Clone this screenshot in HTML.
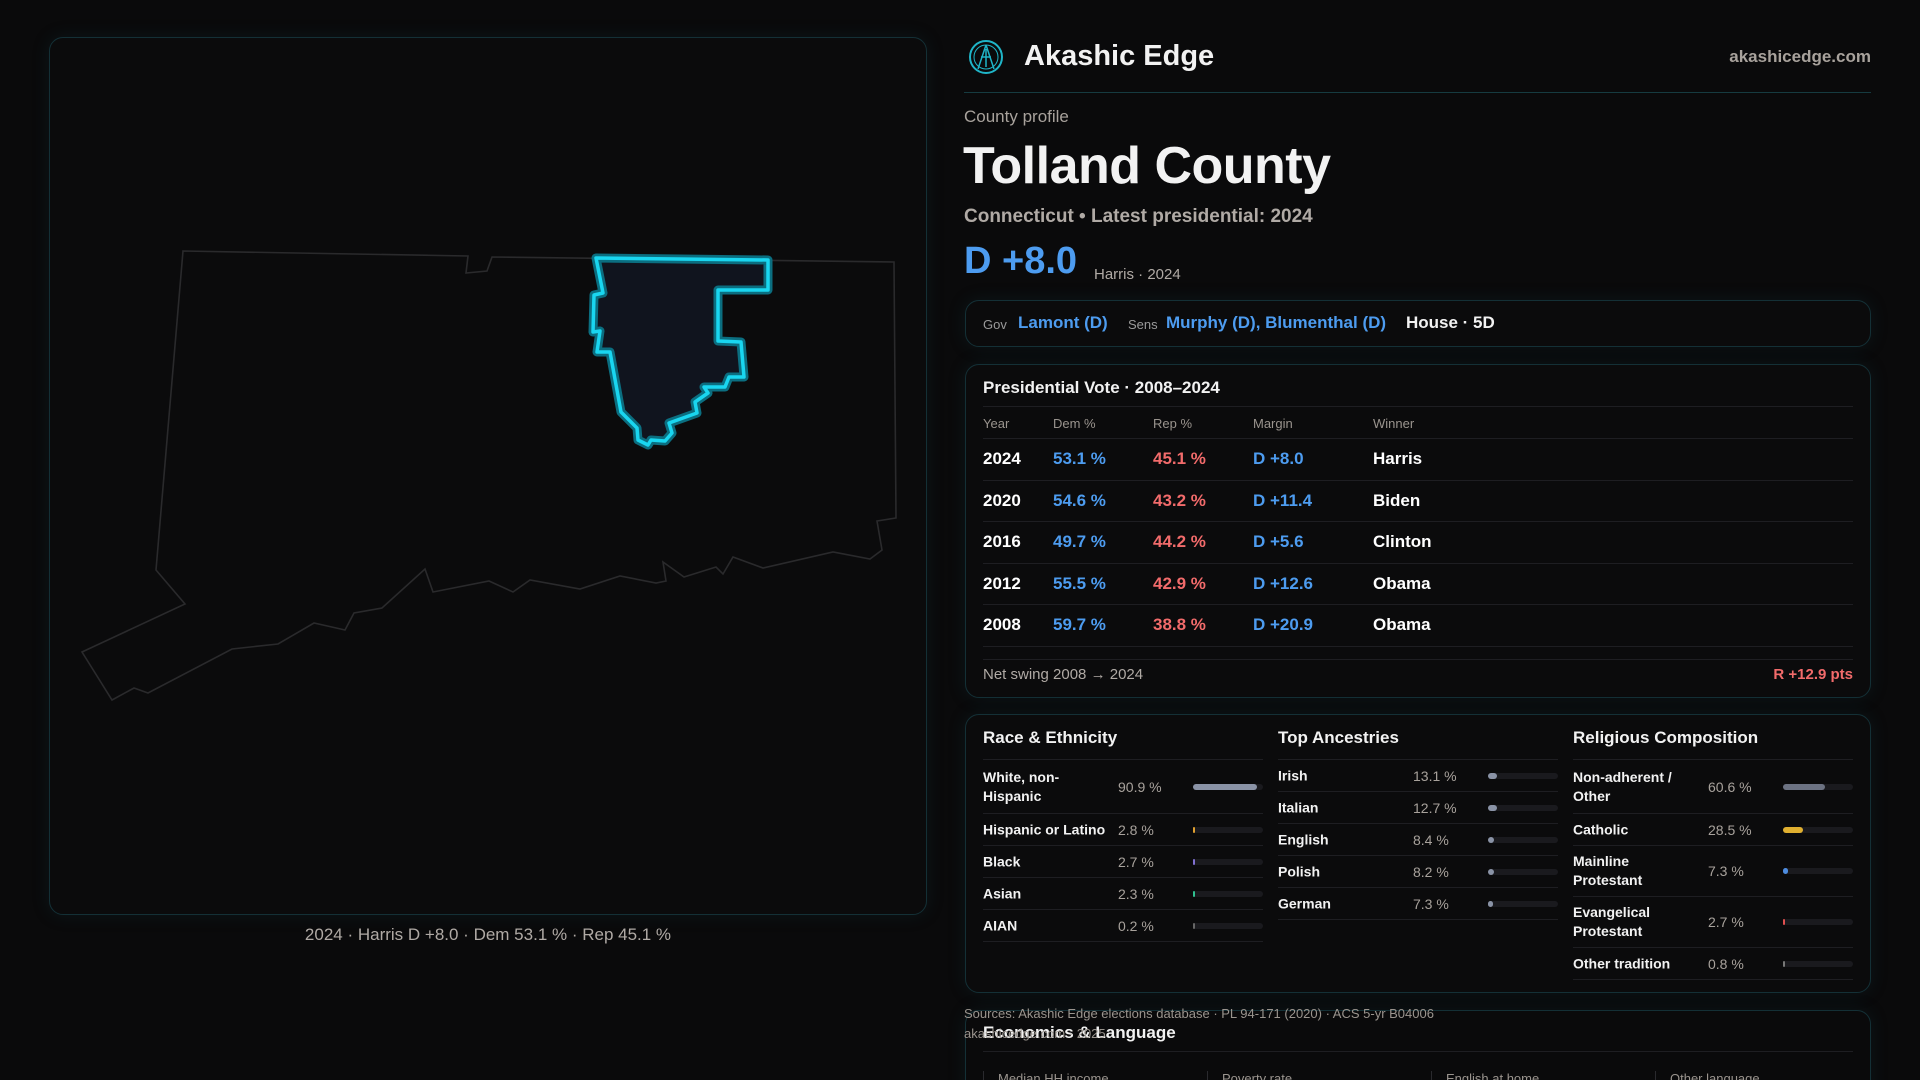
<!DOCTYPE html>
<html><head><meta charset="utf-8">
<style>
*{box-sizing:border-box;margin:0;padding:0}
html{width:1920px;height:1080px;overflow:hidden}
body{width:1920px;height:1080px;background:#0a0a0b;font-family:"Liberation Sans",sans-serif;color:#f2f2f2;position:relative;overflow:hidden}
.abs{position:absolute}
.panel{position:absolute;border:1px solid #143036;border-radius:14px;background:#0b0b0c;box-shadow:0 0 18px rgba(20,80,90,0.18)}
.muted{color:#9a9a9a}
.blue{color:#4d9cf0}.red{color:#f26b6b}
.row{position:absolute;left:0;right:0;border-bottom:1px solid #1e1e22}
.cell{position:absolute;top:0;white-space:nowrap}
</style></head><body>
<div class="panel" style="left:49px;top:37px;width:878px;height:878px;">
<svg width="878" height="878" style="position:absolute;left:-1px;top:-1px">
<g transform="translate(-49,-37)">
<polygon fill="#0b0b0c" stroke="#2a2a2c" stroke-width="1.6" points="183,251 468,256 466,273 487,271 492,257 894,262 896,518 877,521 882,550 870,559 833,552 763,568 733,557 723,574 716,567 684,577 663,562 666,581 656,583 620,576 580,589 530,580 513,592 489,581 433,592 425,569 382,608 354,613 345,630 314,623 278,644 232,649 148,693 134,688 112,700 82,652 185,604 156,570"/>
<polygon fill="#10141e" stroke="#0b6e80" stroke-width="9" stroke-linejoin="round" points="596,258 768,260 768,290 718,290 718,341 741,342 744,377 729,377 725,387 704,387 708,393 695,402 697,413 669,423 672,433 665,441 651,440 648,445 638,440 637,428 621,412 610,352 597,352 600,331 593,332 594,295 603,293"/>
<polygon fill="none" stroke="#19d6f0" stroke-width="3.5" stroke-linejoin="round" points="596,258 768,260 768,290 718,290 718,341 741,342 744,377 729,377 725,387 704,387 708,393 695,402 697,413 669,423 672,433 665,441 651,440 648,445 638,440 637,428 621,412 610,352 597,352 600,331 593,332 594,295 603,293"/>
</g></svg>
</div>
<div class="abs muted" style="left:49px;width:878px;top:925px;text-align:center;font-size:17px;color:#b0aaa5">2024 · Harris D +8.0 · Dem 53.1 % · Rep 45.1 %</div>

<svg class="abs" style="left:968px;top:39px" width="36" height="36">
<circle cx="18" cy="18" r="16" fill="none" stroke="#1fb5c8" stroke-width="2"/>
<circle cx="18" cy="18" r="12" fill="none" stroke="#1fb5c8" stroke-width="1"/>
<path d="M18 6 L10 30 M18 6 L26 30 M13 18 L23 18 M18 10 L18 28" stroke="#1fb5c8" stroke-width="1.5" fill="none"/></svg>
<div class="abs" style="left:1024px;top:40px;font-size:29px;font-weight:bold">Akashic Edge</div>
<div class="abs" style="right:49px;top:47px;font-size:17px;font-weight:bold;color:#a8a29c">akashicedge.com</div>
<div class="abs" style="left:964px;width:907px;top:92px;height:1px;background:#163b40"></div>
<div class="abs" style="left:964px;top:107px;font-size:17px;color:#a8a29c">County profile</div>
<div class="abs" style="left:963px;top:136px;font-size:52px;font-weight:bold;letter-spacing:-0.5px">Tolland County</div>
<div class="abs" style="left:964px;top:206px;font-size:19px;color:#b0aaa5;font-weight:bold">Connecticut • Latest presidential: 2024</div>
<div class="abs blue" style="left:964px;top:240px;font-size:38px;font-weight:bold">D +8.0</div>
<div class="abs" style="left:1094px;top:266px;font-size:15px;color:#b0aaa5">Harris · 2024</div>

<div class="panel" style="left:965px;top:300px;width:906px;height:47px;font-size:17px">
<span class="abs muted" style="left:17px;top:16px;font-size:13px">Gov</span>
<span class="abs blue" style="left:52px;top:12px;font-weight:bold">Lamont (D)</span>
<span class="abs muted" style="left:162px;top:16px;font-size:13px">Sens</span>
<span class="abs blue" style="left:200px;top:12px;font-weight:bold">Murphy (D), Blumenthal (D)</span>
<span class="abs" style="left:440px;top:12px;font-weight:bold">House · 5D</span>
</div>

<div class="panel" style="left:965px;top:364px;width:906px;height:334px">
<div class="abs" style="left:17px;top:13px;font-size:17px;font-weight:bold">Presidential Vote · 2008–2024</div>
<div class="abs" style="left:17px;right:17px;top:41px;height:1px;background:#1e1e22"></div>
<div id="pres" class="abs" style="left:17px;right:17px;top:41px;height:240px"></div>
<div class="abs" style="left:17px;right:17px;top:294px;height:1px;background:#1e1e22"></div>
<div class="abs" style="left:17px;top:301px;font-size:15px;color:#b0aaa5">Net swing 2008 → 2024</div>
<div class="abs red" style="right:17px;top:301px;font-size:15px;font-weight:bold">R +12.9 pts</div>
</div>

<div class="panel" style="left:965px;top:714px;width:906px;height:279px">
<div id="demo" class="abs" style="left:0;top:0;right:0;bottom:0"></div>
</div>

<div class="panel" style="left:965px;top:1010px;width:906px;height:100px;background:transparent">
<div class="abs" style="left:17px;top:12px;font-size:17px;font-weight:bold">Economics &amp; Language</div>
<div class="abs" style="left:17px;right:17px;top:40px;height:1px;background:#1e1e22"></div>
<div class="abs" style="left:17px;top:60px;width:210px;height:60px;border-left:1px solid #2a2a2e;padding-left:14px;font-size:13px;color:#9a948e">Median HH income</div>
<div class="abs" style="left:241px;top:60px;width:210px;height:60px;border-left:1px solid #2a2a2e;padding-left:14px;font-size:13px;color:#9a948e">Poverty rate</div>
<div class="abs" style="left:465px;top:60px;width:210px;height:60px;border-left:1px solid #2a2a2e;padding-left:14px;font-size:13px;color:#9a948e">English at home</div>
<div class="abs" style="left:689px;top:60px;width:210px;height:60px;border-left:1px solid #2a2a2e;padding-left:14px;font-size:13px;color:#9a948e">Other language</div>
</div>
<div class="abs" style="left:964px;top:1006px;font-size:13px;color:#9a948e">Sources: Akashic Edge elections database · PL 94-171 (2020) · ACS 5-yr B04006</div>
<div class="abs" style="left:964px;top:1026px;font-size:13px;color:#9a948e">akashicedge.com · 2025</div>

<script>
const years=["2024","2020","2016","2012","2008"];
const demPct=[53.1,54.6,49.7,55.5,59.7];
const repPct=[45.1,43.2,44.2,42.9,38.8];
const marginLabels=["D +8.0","D +11.4","D +5.6","D +12.6","D +20.9"];
const winners=["Harris","Biden","Clinton","Obama","Obama"];

const raceLabels=["White, non-\nHispanic","Hispanic or Latino","Black","Asian","AIAN"];
const raceValues=[90.9,2.8,2.7,2.3,0.2];
const raceColors=["#8a93a6","#e0a030","#8070d0","#30c090","#666"];
const ancLabels=["Irish","Italian","English","Polish","German"];
const ancValues=[13.1,12.7,8.4,8.2,7.3];
const relLabels=["Non-adherent /\nOther","Catholic","Mainline\nProtestant","Evangelical\nProtestant","Other tradition"];
const relValues=[60.6,28.5,7.3,2.7,0.8];
const relColors=["#6c7282","#e0b030","#4d8ce0","#e05050","#777"];

const pres=document.getElementById('pres');
const cols=[0,70,170,270,390];
const hdr=document.createElement('div');
hdr.className='row';hdr.style.top='0px';hdr.style.height='33px';


["Year","Dem %","Rep %","Margin","Winner"].forEach((t,i)=>{const c=document.createElement('div');c.className='cell';c.style.left=cols[i]+'px';c.style.top='10px';c.style.fontSize='13px';c.style.color='#9a948e';c.textContent=t;hdr.appendChild(c);});
pres.appendChild(hdr);
years.forEach((y,i)=>{
  const r=document.createElement('div');r.className='row';
  r.style.top=(33+i*41.5)+'px';r.style.height='41.5px';
  
  
  const m=demPct[i]-repPct[i];
  const vals=[[y,'#fff'],[demPct[i].toFixed(1)+' %','#4d9cf0'],[repPct[i].toFixed(1)+' %','#f26b6b'],[marginLabels[i],m>=0?'#4d9cf0':'#f26b6b'],[winners[i],'#fff']];
  vals.forEach((v,j)=>{const c=document.createElement('div');c.className='cell';c.style.left=cols[j]+'px';c.style.top='10px';c.style.fontSize='17px';c.style.fontWeight='bold';c.style.color=v[1];c.textContent=v[0];r.appendChild(c);});
  pres.appendChild(r);
});

const demo=document.getElementById('demo');
function section(x,title,labels,values,colors,heights,name){
  const t=document.createElement('div');t.className='abs';t.style.left=x+'px';t.style.top='13px';t.style.fontSize='17px';t.style.fontWeight='bold';t.textContent=title;
  
  
  demo.appendChild(t);
  const ln=document.createElement('div');ln.className='abs';ln.style.left=x+'px';ln.style.width='280px';ln.style.top='44px';ln.style.height='1px';ln.style.background='#1e1e22';demo.appendChild(ln);
  let y=45;
  labels.forEach((l,i)=>{
    const h=heights[i];
    const r=document.createElement('div');r.className='abs';r.style.left=x+'px';r.style.width='280px';r.style.top=y+'px';r.style.height=h+'px';r.style.borderBottom='1px solid #1e1e22';
    
    
    const a=document.createElement('div');a.className='abs';a.style.left='0';a.style.top='50%';a.style.transform='translateY(-50%)';a.style.fontSize='14px';a.style.fontWeight='bold';a.style.lineHeight='19px';a.style.whiteSpace='pre';a.textContent=l;r.appendChild(a);
    const v=document.createElement('div');v.className='abs';v.style.left='135px';v.style.top='50%';v.style.transform='translateY(-50%)';v.style.fontSize='14px';v.style.color='#a8a29c';v.textContent=values[i].toFixed(1)+' %';r.appendChild(v);
    const tr=document.createElement('div');tr.className='abs';tr.style.left='210px';tr.style.width='70px';tr.style.height='6px';tr.style.top='calc(50% - 3px)';tr.style.borderRadius='3px';tr.style.background='#1a1a1e';
    const f=document.createElement('div');f.style.height='6px';f.style.borderRadius='3px';f.style.background=colors[i];f.style.width=Math.max(2,values[i]/100*70)+'px';
    
    
    tr.appendChild(f);r.appendChild(tr);
    demo.appendChild(r);y+=h;
  });
}
section(17,"Race & Ethnicity",raceLabels,raceValues,raceColors,[54,32,32,32,32],'race');
section(312,"Top Ancestries",ancLabels,ancValues,["#8a93a6","#8a93a6","#8a93a6","#8a93a6","#8a93a6"],[32,32,32,32,32],'ancestry');
section(607,"Religious Composition",relLabels,relValues,relColors,[54,32,51,51,32],'religion');
</script>
</body></html>
